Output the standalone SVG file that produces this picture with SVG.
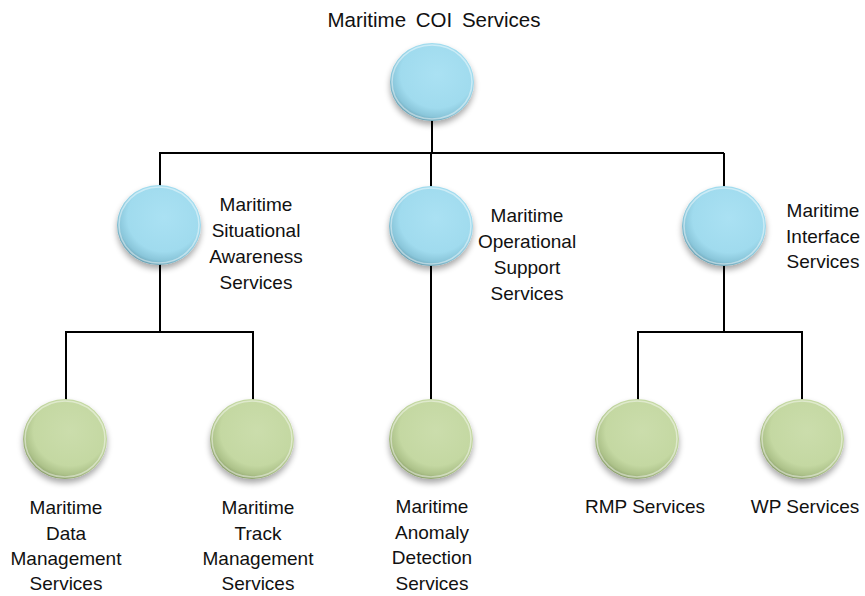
<svg xmlns="http://www.w3.org/2000/svg" width="865" height="596" viewBox="0 0 865 596">
<style>
  text { font-family: "Liberation Sans", Arial, sans-serif; font-size: 19px; fill: #111; text-anchor: middle; }
  .title { font-size: 20.5px; word-spacing: 4px; }
  .conn { stroke: #000; stroke-width: 2; fill: none; }
  .blue { fill: url(#gBlue); }
  .green { fill: url(#gGreen); }
  .rim { fill: none; stroke: #ffffff; stroke-opacity: 0.45; stroke-width: 1.5; }
</style>
<defs>
  <radialGradient id="gBlue" cx="0.56" cy="0.4" r="0.62">
    <stop offset="0" stop-color="#aae1f3"/>
    <stop offset="0.7" stop-color="#a0dbee"/>
    <stop offset="0.88" stop-color="#8ac6da"/>
    <stop offset="1" stop-color="#679fb1"/>
  </radialGradient>
  <radialGradient id="gGreen" cx="0.56" cy="0.4" r="0.62">
    <stop offset="0" stop-color="#cbddac"/>
    <stop offset="0.7" stop-color="#c4d8a2"/>
    <stop offset="0.88" stop-color="#adc28a"/>
    <stop offset="1" stop-color="#879c67"/>
  </radialGradient>
  <filter id="shadow" x="-30%" y="-30%" width="160%" height="170%">
    <feGaussianBlur in="SourceAlpha" stdDeviation="3"/>
    <feOffset dx="0" dy="4" result="b"/>
    <feComponentTransfer><feFuncA type="linear" slope="0.35"/></feComponentTransfer>
    <feMerge><feMergeNode/><feMergeNode in="SourceGraphic"/></feMerge>
  </filter>
</defs>

<g id="connectors">
  <line class="conn" x1="432" y1="120" x2="432" y2="153"/>
  <line class="conn" x1="159" y1="153" x2="724" y2="153"/>
  <line class="conn" x1="160" y1="153" x2="160" y2="186"/>
  <line class="conn" x1="431" y1="153" x2="431" y2="187"/>
  <line class="conn" x1="724" y1="153" x2="724" y2="187"/>
  <line class="conn" x1="160" y1="264" x2="160" y2="332"/>
  <line class="conn" x1="65" y1="332" x2="253" y2="332"/>
  <line class="conn" x1="66" y1="331" x2="66" y2="400"/>
  <line class="conn" x1="253" y1="331" x2="253" y2="400"/>
  <line class="conn" x1="431" y1="264" x2="431" y2="400"/>
  <line class="conn" x1="724" y1="264" x2="724" y2="332"/>
  <line class="conn" x1="637" y1="332" x2="803" y2="332"/>
  <line class="conn" x1="638" y1="331" x2="638" y2="400"/>
  <line class="conn" x1="802" y1="331" x2="802" y2="400"/>
</g>

<g id="root">
  <text class="title" x="434" y="27">Maritime COI Services</text>
  <g filter="url(#shadow)"><ellipse class="blue" cx="432" cy="82" rx="42" ry="39"/></g>
  <ellipse class="rim" cx="432" cy="82" rx="40" ry="37"/>
</g>

<g id="situational">
  <g filter="url(#shadow)"><ellipse class="blue" cx="159" cy="225" rx="42" ry="40"/></g>
  <ellipse class="rim" cx="159" cy="225" rx="40" ry="38"/>
  <text x="256" y="211">Maritime</text>
  <text x="256" y="237">Situational</text>
  <text x="256" y="263">Awareness</text>
  <text x="256" y="289">Services</text>
</g>

<g id="operational">
  <g filter="url(#shadow)"><ellipse class="blue" cx="431" cy="226" rx="42" ry="40"/></g>
  <ellipse class="rim" cx="431" cy="226" rx="40" ry="38"/>
  <text x="527" y="222">Maritime</text>
  <text x="527" y="248">Operational</text>
  <text x="527" y="274">Support</text>
  <text x="527" y="300">Services</text>
</g>

<g id="interface">
  <g filter="url(#shadow)"><ellipse class="blue" cx="724" cy="226" rx="42" ry="40"/></g>
  <ellipse class="rim" cx="724" cy="226" rx="40" ry="38"/>
  <text x="823" y="217">Maritime</text>
  <text x="823" y="243">Interface</text>
  <text x="823" y="268">Services</text>
</g>

<g id="data">
  <g filter="url(#shadow)"><ellipse class="green" cx="65" cy="439" rx="42" ry="40"/></g>
  <ellipse class="rim" cx="65" cy="439" rx="40" ry="38"/>
  <text x="66" y="514">Maritime</text>
  <text x="66" y="540">Data</text>
  <text x="66" y="565">Management</text>
  <text x="66" y="590">Services</text>
</g>

<g id="track">
  <g filter="url(#shadow)"><ellipse class="green" cx="252" cy="439" rx="42" ry="40"/></g>
  <ellipse class="rim" cx="252" cy="439" rx="40" ry="38"/>
  <text x="258" y="514">Maritime</text>
  <text x="258" y="540">Track</text>
  <text x="258" y="565">Management</text>
  <text x="258" y="590">Services</text>
</g>

<g id="anomaly">
  <g filter="url(#shadow)"><ellipse class="green" cx="431" cy="439" rx="42" ry="40"/></g>
  <ellipse class="rim" cx="431" cy="439" rx="40" ry="38"/>
  <text x="432" y="513">Maritime</text>
  <text x="432" y="539">Anomaly</text>
  <text x="432" y="564">Detection</text>
  <text x="432" y="590">Services</text>
</g>

<g id="rmp">
  <g filter="url(#shadow)"><ellipse class="green" cx="637" cy="439" rx="42" ry="40"/></g>
  <ellipse class="rim" cx="637" cy="439" rx="40" ry="38"/>
  <text x="645" y="513">RMP Services</text>
</g>

<g id="wp">
  <g filter="url(#shadow)"><ellipse class="green" cx="802" cy="439" rx="42" ry="40"/></g>
  <ellipse class="rim" cx="802" cy="439" rx="40" ry="38"/>
  <text x="805" y="513">WP Services</text>
</g>
</svg>
